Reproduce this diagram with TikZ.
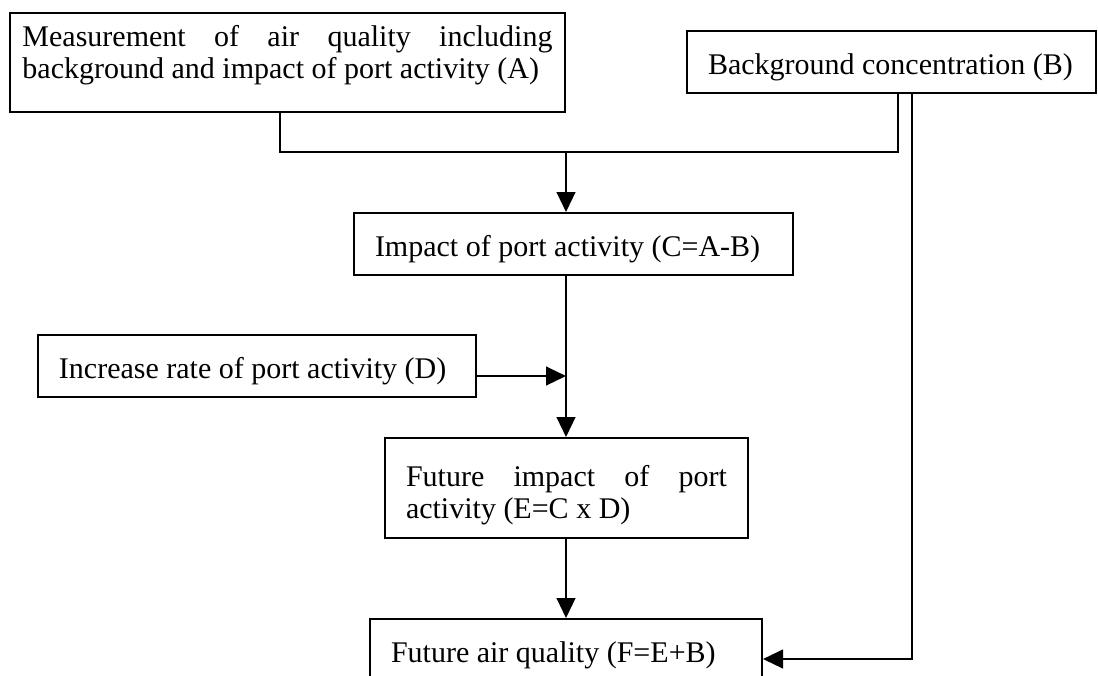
\documentclass[tikz,border=0pt]{standalone}
\usepackage{fontspec}
\setmainfont{Liberation Serif}
\usetikzlibrary{arrows.meta}
\newcommand\boxfont{\fontsize{12pt}{13pt}\selectfont\hyphenpenalty10000\relax}
\tikzset{box/.style={draw,line width=0.8pt,inner sep=0pt,font=\boxfont},
 single/.style={box,align=flush left,inner xsep=8.4pt,minimum height=24.8pt,text height=11pt,text depth=1pt},
 double/.style={box,anchor=north,align=justify,inner ysep=5pt},
 wire/.style={line width=0.8pt},
 flow/.style={wire,-{Triangle[length=8pt,width=7.5pt]}},
 }
\begin{document}
\begin{tikzpicture}[x=0.4pt,y=-0.4pt]
        \useasboundingbox (0,0) rectangle (1098,675);
        \clip (0,0) rectangle (1098,675);
        \node[double,inner xsep=5pt,text width=212pt,text height=8.2pt,text depth=21.4pt] (meas) at (287.5,12)
            {Measurement of air quality including background and impact of port activity (A)};
        \node[single,text width=146.8pt] (bg) at (891.5,61.5) {Background concentration (B)};
        \node[single,text width=158.8pt] (impact) at (573.5,244) {Impact of port activity (C=A-B)};
        \node[single,text width=158.4pt] (rate) at (257,366) {Increase rate of port activity (D)};
        \node[double,inner xsep=8.4pt,text width=128.4pt,text height=14.2pt,text depth=15.8pt] (future) at (566.5,437)
            {Future impact of port activity (E=C x D)};
        \node[single,text width=140pt] (air) at (566,650) {Future air quality (F=E+B)};
        \coordinate (takeoff) at (280,0);
        \coordinate (merge) at (566,152);
        \coordinate (landing) at (898,0);
        \coordinate (join) at (566,376);
        \coordinate (bend) at (912,659);
        \draw[wire] (meas.south -| takeoff) |- (merge) -| (bg.south -| landing);
        \draw[flow] (merge) -- (impact.north -| merge);
        \draw[flow] (impact.south -| merge) -- (future.north -| merge);
        \draw[flow] (rate.east |- join) -- (join);
        \draw[flow] (future.south -| merge) -- (air.north -| merge);
        \draw[flow] (bg.south -| bend) -- (bend) -- (air.east |- bend);
\end{tikzpicture}
\end{document}
